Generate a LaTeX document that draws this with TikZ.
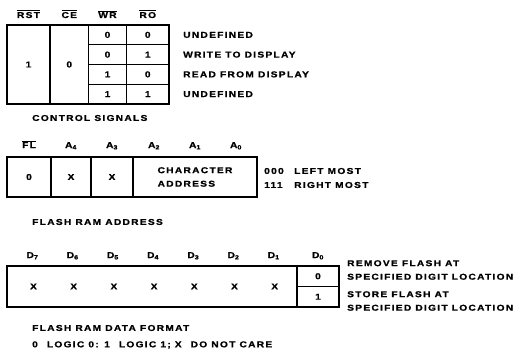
\documentclass[tikz,border=0pt]{standalone}
\usepackage{fontspec}
\setmainfont{Liberation Sans}[FakeStretch=1.2,LetterSpace=15,FakeBold=1]
\newcommand{\actlow}[1]{$\overline{\mbox{#1}}$}

\begin{document}
\begin{tikzpicture}[x=1pt, y=-1pt,
    txt/.style={font=\fontsize{8.5}{13.5}\selectfont\bfseries, inner sep=0pt},
    cell/.style={draw, line width=1.5pt, txt},
    lbl/.style={txt, anchor=west},
    hdr/.style={txt, anchor=base}]
    \useasboundingbox (0,0) rectangle (514,361);

    % --- Control signals (top) ---
    \node[hdr] (hrst) at (28.5, 18) {\actlow{RST}};
    \node[hdr] (hce) at (69.25, 18) {\actlow{CE}};
    \node[hdr] (hwr) at (107.5, 18) {\actlow{WR}};
    \node[hdr] (hro) at (147.75, 18) {\actlow{RO}};

    \node[cell, minimum width=43pt, minimum height=79pt] (rst) at (28.5, 64.5) {1};
    \node[cell, minimum width=38.5pt, minimum height=79pt] (ce) at (69.25, 64.5) {0};
    \foreach \wr/\ro [count=\r] in {0/0, 0/1, 1/0, 1/1} {
        \node[cell, minimum width=38pt, minimum height=19.75pt] (wr\r) at (107.5, 15.125+19.75*\r) {\wr};
        \node[cell, minimum width=42.5pt, minimum height=19.75pt] (ro\r) at (147.75, 15.125+19.75*\r) {\ro};
    }
    \foreach \mode [count=\r] in {UNDEFINED, WRITE TO DISPLAY, READ FROM DISPLAY, UNDEFINED} {
        \node[lbl] (mode\r) at (183, 15.125+19.75*\r) {\mode};
    }
    \node[lbl] (ctrl) at (32, 118) {CONTROL SIGNALS};

    % --- Flash RAM address (middle) ---
    \node[hdr] (hfl) at (29, 148) {\actlow{FL}};
    \node[hdr] (ha4) at (71, 148) {A\textsubscript{4}};
    \node[hdr] (ha3) at (112, 148) {A\textsubscript{3}};
    \node[hdr] (ha2) at (154, 148) {A\textsubscript{2}};
    \node[hdr] (ha1) at (195, 148) {A\textsubscript{1}};
    \node[hdr] (ha0) at (236, 148) {A\textsubscript{0}};

    \node[cell, minimum width=44pt, minimum height=40pt] (fl) at (29, 177) {0};
    \node[cell, minimum width=40pt, minimum height=40pt] (a4) at (71, 177) {X};
    \node[cell, minimum width=42pt, minimum height=40pt] (a3) at (112, 177) {X};
    \node[cell, minimum width=124pt, minimum height=40pt, align=left] (chr) at (195, 177) {CHARACTER\\ADDRESS};

    \node[lbl] (c000) at (264, 171) {000};
    \node[lbl] (cleft) at (294, 171) {LEFT MOST};
    \node[lbl] (c111) at (264, 185) {111};
    \node[lbl] (cright) at (294, 185) {RIGHT MOST};

    \node[lbl] (addr) at (32, 222) {FLASH RAM ADDRESS};

    % --- Flash RAM data format (bottom) ---
    \node[cell, minimum width=290pt, minimum height=41pt] (dx) at (152, 286.5) {};
    \foreach \n in {7,...,1} {
        \node[hdr] (hd\n) at (32.5+40.2*7-40.2*\n, 258) {D\textsubscript{\n}};
        \node[txt] (xd\n) at (33.5+40.2*7-40.2*\n, 286.5) {X};
    }
    \node[hdr] (hd0) at (318, 258) {D\textsubscript{0}};
    \node[cell, minimum width=42pt, minimum height=20.5pt] (dzero) at (318, 276.25) {0};
    \node[cell, minimum width=42pt, minimum height=20.5pt] (done) at (318, 296.75) {1};

    \node[lbl, align=left] (remove) at (347, 270) {REMOVE FLASH AT\\SPECIFIED DIGIT LOCATION};
    \node[lbl, align=left] (store) at (347, 301) {STORE FLASH AT\\SPECIFIED DIGIT LOCATION};

    \node[lbl] (data) at (32, 328) {FLASH RAM DATA FORMAT};
    \node[lbl] (legend) at (32, 345) {0\hspace{9pt}LOGIC 0: 1\hspace{9pt}LOGIC 1; X\hspace{9pt}DO NOT CARE};

\end{tikzpicture}
\end{document}
